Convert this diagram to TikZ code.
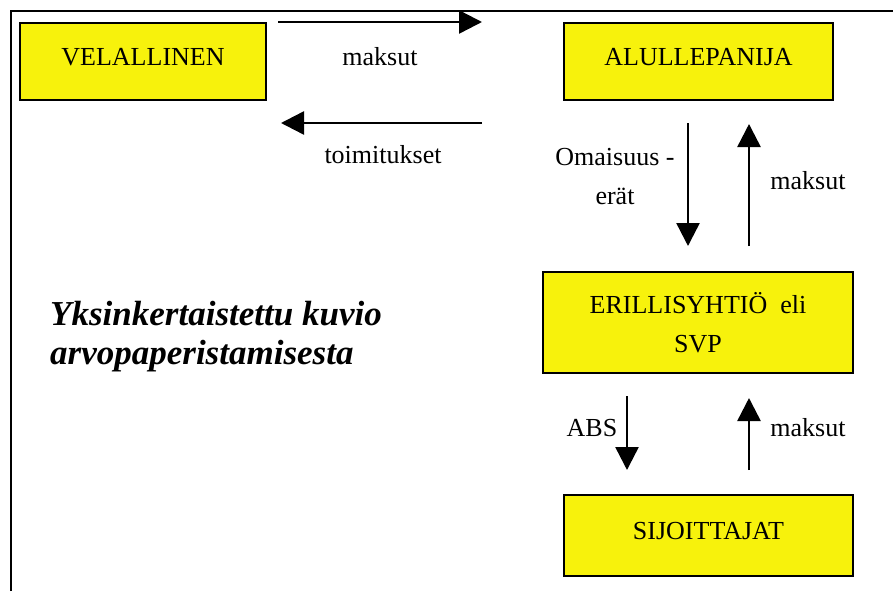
\documentclass[tikz,border=0pt]{standalone}
\usepackage{fontspec}
\setmainfont{Liberation Serif}
\usepackage{tikz}
\usetikzlibrary{arrows.meta, positioning, calc}

\definecolor{boxyellow}{RGB}{247,242,12}

\begin{document}
\begin{tikzpicture}[x=1pt, y=-1pt,
    box/.style={draw, line width=2pt, fill=boxyellow, align=center, inner sep=0pt,
        font=\fontsize{26}{39}\selectfont},
    onebox/.style={box, text height=18pt, text depth=10pt},
    flow/.style={-{Triangle[length=23pt, width=23pt]}, line width=2.5pt},
    lbl/.style={font=\fontsize{26}{39}\selectfont, align=center, inner sep=0pt}
]
    \useasboundingbox (0,0) rectangle (893,591);

    % Frame
    \draw[line width=2pt] (10.5,591) -- (10.5,11) -- (893,11);

    % Parties
    \node[onebox, minimum width=246pt, minimum height=77pt] (vel) at (143,61.5) {VELALLINEN};
    \node[onebox, minimum width=269pt, minimum height=77pt] (alu) at (698.5,61.5) {ALULLEPANIJA};
    \node[box, minimum width=310pt, minimum height=101pt] (svp) at (698,322.5) {ERILLISYHTIÖ\ \ eli\\SVP};
    \node[onebox, minimum width=289pt, minimum height=81pt] (sij) at (708.5,535.5) {SIJOITTAJAT};

    % Title
    \node[anchor=west, align=left, inner sep=0pt, font=\fontsize{35}{39}\selectfont\bfseries\itshape]
        (title) at (50,337) {Yksinkertaistettu kuvio\\arvopaperistamisesta};

    % Flows
    \draw[flow] ([xshift=11pt]vel.north east) -- ([xshift=-81pt]alu.north west);
    \draw[flow] ($(alu.south west)+(-81,22)$) -- ($(vel.south east)+(14,22)$);

    \draw[flow] ($(alu.south)+(-10.5,22)$) -- ($(svp.north)+(-10,-25)$);
    \draw[flow] ($(svp.north)+(51,-25)$) -- ($(alu.south)+(50.5,23)$);

    \draw[flow] ($(svp.south)+(-71,22)$) -- ($(sij.north)+(-81.5,-24)$);
    \draw[flow] ($(sij.north)+(40.5,-24)$) -- ($(svp.south)+(51,24)$);

    % Labels
    \node[lbl] (m1) at (380,57) {maksut};
    \node[lbl] (toim) at (383,155) {toimitukset};
    \node[lbl] (omai) at (615,177) {Omaisuus -\\erät};
    \node[lbl] (m2) at (808,181) {maksut};
    \node[lbl] (abs) at (592,428) {ABS};
    \node[lbl] (m3) at (808,428) {maksut};
\end{tikzpicture}
\end{document}
